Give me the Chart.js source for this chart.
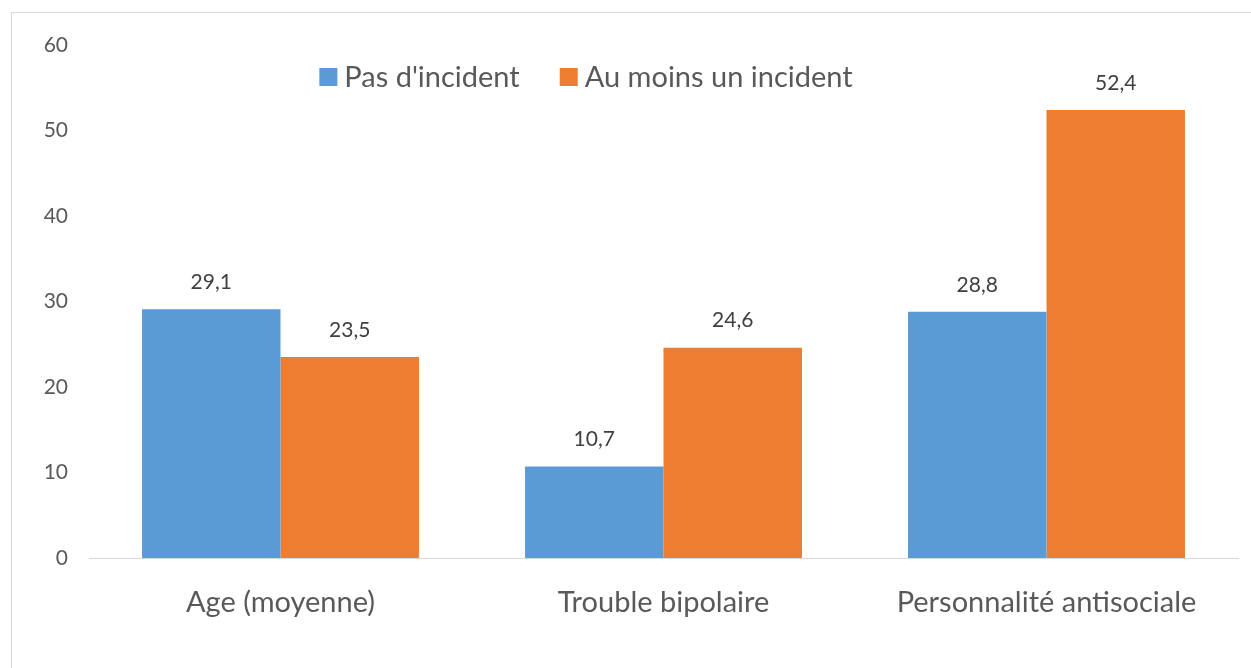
<!DOCTYPE html>
<html>
<head>
<meta charset="utf-8">
<script src="https://cdn.jsdelivr.net/npm/chart.js"></script>
<style>
  html, body { margin: 0; padding: 0; background: #fff; }
  #wrap { position: relative; width: 1251px; height: 668px; overflow: hidden; }
  #frame { position: absolute; left: 11px; top: 12px; width: 1400px; height: 800px;
           border-top: 1px solid #d9d9d9; border-left: 1px solid #d9d9d9; }
  canvas { position: absolute; left: 0; top: 0; }
</style>
</head>
<body>
<div id="wrap">
  <div id="frame"></div>
  <canvas id="chart" width="1251" height="668"></canvas>
</div>
<script>
// data
const categories = ['Age (moyenne)', 'Trouble bipolaire', 'Personnalité antisociale'];
const seriesNames = ["Pas d'incident", 'Au moins un incident'];
const noIncident = [29.1, 10.7, 28.8];
const atLeastOne = [23.5, 24.6, 52.4];
const yTicks = [0, 10, 20, 30, 40, 50, 60];

const colors = ['#5b9bd5', '#ed7d31'];
const fontName = 'Lato, "Open Sans", sans-serif';

// value labels above each bar, French decimal comma
const barLabels = {
  id: 'barLabels',
  afterDatasetsDraw(chart) {
    const ctx = chart.ctx;
    ctx.save();
    ctx.font = '21px ' + fontName;
    ctx.fillStyle = '#404040';
    ctx.textAlign = 'center';
    ctx.textBaseline = 'middle';
    chart.data.datasets.forEach((ds, i) => {
      chart.getDatasetMeta(i).data.forEach((bar, j) => {
        ctx.fillText(ds.data[j].toFixed(1).replace('.', ','), bar.x, bar.y - 27);
      });
    });
    ctx.restore();
  }
};

// legend drawn inside the plot, like the Excel original
const topLegend = {
  id: 'topLegend',
  afterDraw(chart) {
    const ctx = chart.ctx;
    ctx.save();
    ctx.font = '29px ' + fontName;
    ctx.textBaseline = 'middle';
    const box = 18, gapText = 7, gapItem = 40;
    const widths = chart.data.datasets.map(ds => ctx.measureText(ds.label).width);
    let total = 0;
    widths.forEach((w, i) => { total += box + gapText + w + (i ? gapItem : 0); });
    let x = 586 - total / 2;
    const y = 77;
    chart.data.datasets.forEach((ds, i) => {
      ctx.fillStyle = ds.backgroundColor;
      ctx.fillRect(x, y - box / 2, box, box);
      ctx.fillStyle = '#595959';
      ctx.fillText(ds.label, x + box + gapText, y + 1);
      x += box + gapText + widths[i] + gapItem;
    });
    ctx.restore();
  }
};

new Chart(document.getElementById('chart'), {
  type: 'bar',
  data: {
    labels: categories,
    datasets: [
      { label: seriesNames[0], data: noIncident, backgroundColor: colors[0] },
      { label: seriesNames[1], data: atLeastOne, backgroundColor: colors[1] }
    ]
  },
  options: {
    responsive: false,
    animation: false,
    devicePixelRatio: 1,
    layout: { padding: { top: 45, right: 13, left: 0, bottom: 0 } },
    datasets: { bar: { categoryPercentage: 0.723, barPercentage: 1.0 } },
    plugins: {
      legend: { display: false },
      tooltip: { enabled: false }
    },
    scales: {
      x: {
        grid: { display: false },
        border: { display: true, color: '#d9d9d9', width: 1 },
        ticks: { color: '#595959', font: { family: fontName, size: 29 }, padding: 19, maxRotation: 0 },
        afterFit(scale) { scale.height = 110; }
      },
      y: {
        min: 0,
        max: 60,
        afterBuildTicks(scale) { scale.ticks = yTicks.map(v => ({ value: v })); },
        grid: { display: false },
        border: { display: false },
        ticks: { color: '#595959', font: { family: fontName, size: 21 }, padding: 13 },
        afterFit(scale) { scale.width = 89; }
      }
    }
  },
  plugins: [barLabels, topLegend]
});
</script>
</body>
</html>
